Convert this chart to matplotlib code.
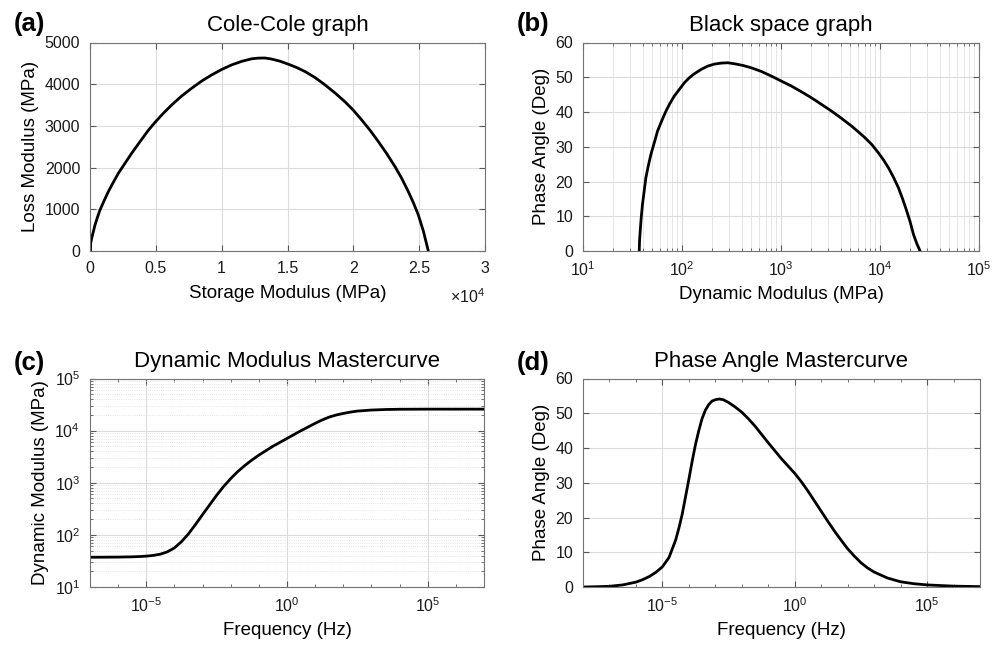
import matplotlib
matplotlib.use("Agg")
import matplotlib.pyplot as plt
import matplotlib.ticker as mticker
import numpy as np

plt.rcParams['font.family'] = ['Liberation Sans', 'DejaVu Sans']
plt.rcParams['mathtext.fontset'] = 'custom'
plt.rcParams['mathtext.rm'] = 'Liberation Sans'
plt.rcParams['mathtext.it'] = 'Liberation Sans:italic'
plt.rcParams['mathtext.bf'] = 'Liberation Sans:bold'
plt.rcParams['axes.unicode_minus'] = False

# (a) Cole-Cole graph: storage vs loss modulus (MPa)
storage_mod = [37, 51, 127, 253, 380, 557, 759, 1063, 1392, 1772, 2152, 2658,
               3165, 3797, 4430, 4937, 5570, 6203, 6962, 7722, 8481, 9241,
               10000, 10759, 11519, 12278, 12785, 13291, 13797, 14430, 15063,
               15696, 16329, 17089, 17848, 18608, 19367, 20000, 20633, 21266,
               21899, 22532, 23165, 23671, 24177, 24557, 24937, 25316, 25696]
loss_mod = [0, 184, 304, 464, 624, 800, 984, 1200, 1424, 1648, 1864, 2104,
            2344, 2622, 2895, 3085, 3303, 3502, 3717, 3903, 4075, 4223,
            4353, 4463, 4548, 4609, 4626, 4628, 4603, 4552, 4480,
            4400, 4304, 4160, 3984, 3790, 3578, 3376, 3144, 2896,
            2624, 2336, 2024, 1744, 1424, 1160, 864, 480, 0]

# (b) Black space graph: log10 dynamic modulus (MPa) vs phase angle (deg)
black_log_mod = [1.568, 1.571, 1.578, 1.588, 1.601, 1.618, 1.635, 1.659, 1.686,
                 1.720, 1.753, 1.794, 1.838, 1.878, 1.922, 1.973, 2.024, 2.074,
                 2.125, 2.193, 2.260, 2.328, 2.395, 2.463, 2.530, 2.615, 2.699,
                 2.801, 2.902, 3.003, 3.105, 3.206, 3.307, 3.409, 3.510, 3.612,
                 3.713, 3.780, 3.848, 3.916, 3.983, 4.034, 4.085, 4.135, 4.186,
                 4.230, 4.270, 4.304, 4.338, 4.372, 4.405]
black_phase = [0, 2.88, 5.75, 9.59, 13.42, 17.26, 21.09, 24.45, 27.80,
               31.16, 34.52, 37.39, 40.27, 42.47, 44.58, 46.50, 48.42, 49.86,
               51.01, 52.25, 53.21, 53.79, 54.07, 54.17, 53.88, 53.40, 52.73,
               51.68, 50.34, 48.90, 47.46, 45.83, 44.10, 42.19, 40.27, 38.16,
               35.95, 34.32, 32.60, 30.68, 28.28, 26.27, 23.97, 21.28, 18.22,
               14.86, 11.50, 8.44, 4.79, 2.11, 0]

# (c) dynamic modulus mastercurve: log10 frequency (Hz), log10 modulus (MPa)
mc_log_freq = [-7.0, -6.5, -6.0, -5.5, -5.25, -5.0, -4.75, -4.5, -4.25, -4.0,
               -3.75, -3.5, -3.25, -3.0, -2.75, -2.5, -2.25, -2.0, -1.75, -1.5,
               -1.25, -1.0, -0.5, 0.0, 0.5, 1.0, 1.25, 1.5, 1.75, 2.0, 2.25,
               2.5, 3.0, 3.5, 4.0, 5.0, 6.0, 7.0]
mc_log_mod = [1.571, 1.572, 1.574, 1.579, 1.584, 1.592, 1.606, 1.630, 1.675, 1.75,
              1.87, 2.02, 2.20, 2.39, 2.575, 2.76, 2.93, 3.08, 3.215, 3.33,
              3.435, 3.53, 3.70, 3.85, 4.00, 4.14, 4.205, 4.26, 4.30, 4.33, 4.355,
              4.375, 4.395, 4.405, 4.41, 4.412, 4.412, 4.412]

# (d) phase angle mastercurve: log10 frequency (Hz), phase angle (deg)
pa_log_freq = [-8.0, -7.5, -7.0, -6.5, -6.0, -5.75, -5.5, -5.25, -5.0, -4.75,
               -4.5, -4.375, -4.25, -4.125, -4.0, -3.875, -3.75, -3.625, -3.5,
               -3.375, -3.25, -3.125, -3.0, -2.85, -2.7, -2.5, -2.25, -2.0,
               -1.75, -1.5, -1.25, -1.0, -0.75, -0.5, -0.25, 0.0, 0.25, 0.5,
               0.75, 1.0, 1.25, 1.5, 1.75, 2.0, 2.25, 2.5, 2.75, 3.0, 3.5, 4.0,
               4.5, 5.0, 6.0, 7.0]
pa_phase = [0.0, 0.08, 0.2, 0.6, 1.4, 2.1, 3.0, 4.2, 5.8, 8.5,
            13.5, 17.0, 21.0, 26.0, 31.0, 36.2, 41.0, 45.0, 48.5,
            50.9, 52.5, 53.5, 53.9, 54.1, 53.9, 53.1, 51.8, 50.3,
            48.4, 46.3, 43.9, 41.5, 39.2, 36.9, 34.8, 32.7, 30.3, 27.6,
            24.7, 21.8, 18.9, 16.1, 13.5, 11.0, 8.9, 7.0, 5.5, 4.3, 2.6, 1.5,
            0.95, 0.6, 0.25, 0.1]

W, H = 1003, 647
fig = plt.figure(figsize=(W / 100, H / 100), dpi=100)


def box(l, t, r, b):
    return [l / W, 1 - b / H, (r - l) / W, (b - t) / H]


def style(ax):
    for s in ax.spines.values():
        s.set_color('0.45')
        s.set_linewidth(0.8)
    ax.tick_params(which='both', direction='in', top=True, right=True,
                   colors='0.35', labelcolor='0.1', labelsize=11.5, pad=7)
    ax.tick_params(which='major', length=4)
    ax.tick_params(which='minor', length=2)
    ax.set_axisbelow(True)


grid_kw = dict(color='0.86', linewidth=0.8)
minor_kw = dict(color='0.86', linewidth=0.6, linestyle=':')
lab_fs = 13.5
title_fs = 16
tpad = 8.5

# (a)
ax1 = fig.add_axes(box(90, 42.5, 485, 251))
ax1.plot(storage_mod, loss_mod, color='black', lw=2)
ax1.set_xlim(0, 3e4)
ax1.set_ylim(0, 5000)
ax1.set_xticks(np.arange(0, 3.01e4, 0.5e4))
ax1.xaxis.set_major_formatter(mticker.FuncFormatter(lambda v, p: '%g' % (v / 1e4)))
ax1.set_yticks(range(0, 5001, 1000))
ax1.grid(True, **grid_kw)
ax1.set_xlabel('Storage Modulus (MPa)', fontsize=lab_fs, labelpad=7)
ax1.set_ylabel('Loss Modulus (MPa)', fontsize=lab_fs)
ax1.set_title('Cole-Cole graph', fontsize=title_fs, pad=tpad)
ax1.text(1.0, -0.175, r'×$\mathdefault{10^{4}}$', transform=ax1.transAxes,
         ha='right', va='top', fontsize=11.5, color='0.1')
style(ax1)

# (b)
ax2 = fig.add_axes(box(583, 42.5, 979, 251))
ax2.plot(10 ** np.array(black_log_mod), black_phase, color='black', lw=2)
ax2.set_xscale('log')
ax2.set_xlim(10, 1e5)
ax2.set_ylim(0, 60)
ax2.set_yticks(range(0, 61, 10))
ax2.xaxis.set_minor_locator(mticker.LogLocator(base=10, subs=np.arange(2, 10)))
ax2.xaxis.set_minor_formatter(mticker.NullFormatter())
ax2.grid(True, which='major', **grid_kw)
ax2.grid(True, which='minor', axis='x', color='0.88', linewidth=0.6)
ax2.set_xlabel('Dynamic Modulus (MPa)', fontsize=lab_fs, labelpad=5)
ax2.set_ylabel('Phase Angle (Deg)', fontsize=lab_fs)
ax2.set_title('Black space graph', fontsize=title_fs, pad=tpad)
style(ax2)

# (c)
ax3 = fig.add_axes(box(90, 378.5, 484, 587))
ax3.plot(10 ** np.array(mc_log_freq), 10 ** np.array(mc_log_mod), color='black', lw=2)
ax3.set_xscale('log')
ax3.set_yscale('log')
ax3.set_xlim(1e-7, 1e7)
ax3.set_ylim(10, 1e5)
ax3.set_xticks([1e-5, 1e0, 1e5])
ax3.xaxis.set_minor_locator(mticker.LogLocator(base=10, subs=[1.0], numticks=30))
ax3.xaxis.set_minor_formatter(mticker.NullFormatter())
ax3.yaxis.set_major_locator(mticker.LogLocator(base=10, numticks=10))
ax3.yaxis.set_minor_locator(mticker.LogLocator(base=10, subs=np.arange(2, 10), numticks=10))
ax3.yaxis.set_minor_formatter(mticker.NullFormatter())
ax3.grid(True, which='major', **grid_kw)
ax3.grid(True, which='minor', axis='y', **minor_kw)
ax3.set_xlabel('Frequency (Hz)', fontsize=lab_fs, labelpad=5)
ax3.set_ylabel('Dynamic Modulus (MPa)', fontsize=lab_fs)
ax3.set_title('Dynamic Modulus Mastercurve', fontsize=title_fs, pad=tpad)
style(ax3)

# (d)
ax4 = fig.add_axes(box(583, 378.5, 980, 587))
ax4.plot(10 ** np.array(pa_log_freq), pa_phase, color='black', lw=2)
ax4.set_xscale('log')
ax4.set_xlim(1e-8, 1e7)
ax4.set_ylim(0, 60)
ax4.set_yticks(range(0, 61, 10))
ax4.set_xticks([1e-5, 1e0, 1e5])
ax4.xaxis.set_minor_locator(mticker.LogLocator(base=10, subs=[1.0], numticks=30))
ax4.xaxis.set_minor_formatter(mticker.NullFormatter())
ax4.grid(True, which='major', **grid_kw)
ax4.set_xlabel('Frequency (Hz)', fontsize=lab_fs, labelpad=5)
ax4.set_ylabel('Phase Angle (Deg)', fontsize=lab_fs)
ax4.set_title('Phase Angle Mastercurve', fontsize=title_fs, pad=tpad)
style(ax4)

for lab, x, y in [('(a)', 14, 24), ('(b)', 517, 24), ('(c)', 14, 363), ('(d)', 517, 363)]:
    fig.text(x / W, 1 - y / H, lab, fontsize=18.5, fontweight='bold', ha='left', va='center')

fig.savefig('out.png', dpi=100)
